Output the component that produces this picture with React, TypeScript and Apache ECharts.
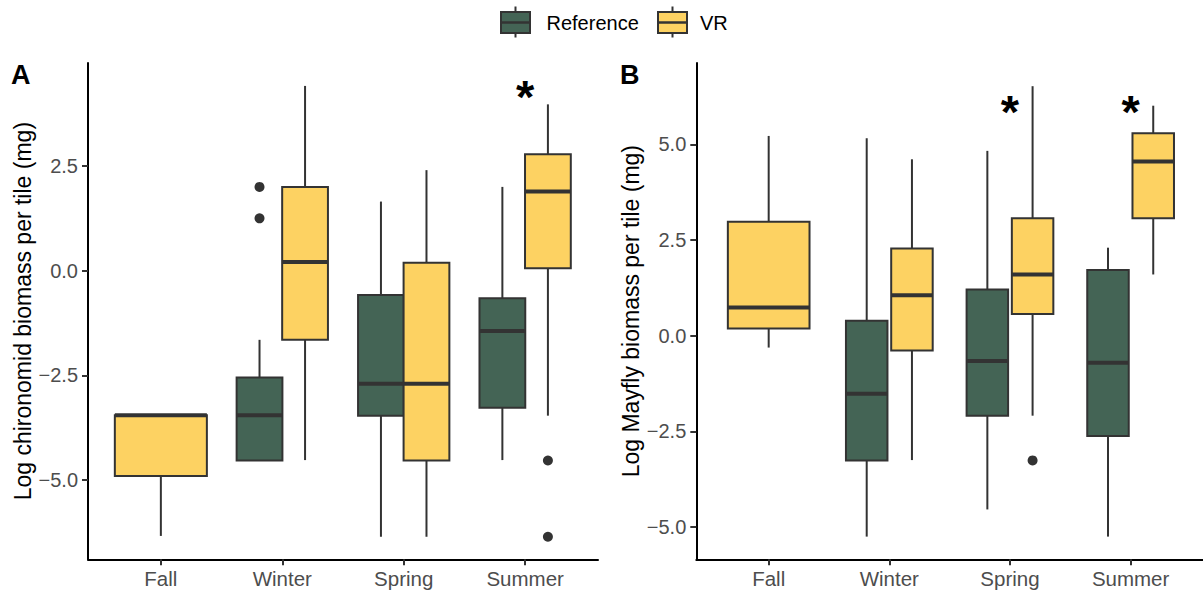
import React, { useEffect, useRef } from "react";
import * as echarts from "echarts";

const seasons = ["Fall", "Winter", "Spring", "Summer"];
// Box statistics per season: [lower whisker, Q1, median, Q3, upper whisker]; null = no box
const chironomidReference = [
  null,
  [-4.53, -4.53, -3.45, -2.55, -1.65],
  [-6.35, -3.46, -2.7, -0.58, 1.65],
  [-4.52, -3.27, -1.44, -0.66, 2.0],
];
const chironomidVR = [
  [-6.33, -4.9, -3.45, -3.45, -3.45],
  [-4.52, -1.65, 0.21, 2.0, 4.41],
  [-6.35, -4.53, -2.7, 0.19, 2.4],
  [-3.46, 0.06, 1.89, 2.78, 3.97],
];
const chironomidRefOutliers = [["Winter", 2.0], ["Winter", 1.25]];
const chironomidVROutliers = [["Summer", -4.53], ["Summer", -6.35]];
const chironomidSignif = [["Summer", 4.15]];

const mayflyReference = [
  null,
  [-5.25, -3.26, -1.52, 0.39, 5.16],
  [-4.54, -2.09, -0.66, 1.21, 4.83],
  [-5.25, -2.62, -0.71, 1.72, 2.3],
];
const mayflyVR = [
  [-0.31, 0.19, 0.74, 2.98, 5.22],
  [-3.25, -0.39, 1.06, 2.28, 4.61],
  [-2.09, 0.57, 1.6, 3.07, 6.52],
  [1.6, 3.07, 4.55, 5.29, 6.01],
];
const mayflyRefOutliers: [string, number][] = [];
const mayflyVROutliers = [["Spring", -3.26]];
const mayflySignif = [["Spring", 5.85], ["Summer", 5.85]];

const yTicksA = [-5, -2.5, 0, 2.5];
const yTicksB = [-5, -2.5, 0, 2.5, 5];
const xTicks = [1, 2, 3, 4];

const REF_COLOR = "#446455";
const VR_COLOR = "#FDD262";
const LINE = "#333333";
const FONT = "'Liberation Sans', Arial, Helvetica, sans-serif";
const DODGE = 0.1875;

function fmtY(v: number) {
  const s = Math.abs(v).toFixed(1);
  return v < 0 ? "\u2212" + s : s;
}

function boxSeries(
  name: string,
  stats: (number[] | null)[],
  other: (number[] | null)[],
  axis: number,
  color: string,
  side: number,
  pairW: number,
  singleW: number
) {
  const data = stats
    .map((s, i) => (s ? [i + 1, ...s, other[i] ? 1 : 0] : null))
    .filter((d) => d !== null);
  return {
    type: "custom",
    name,
    xAxisIndex: axis,
    yAxisIndex: axis,
    clip: false,
    encode: { x: 0, y: [1, 2, 3, 4, 5] },
    data,
    renderItem: (params: any, api: any) => {
      const both = api.value(6) === 1;
      const cx = both ? api.value(0) + side * DODGE : api.value(0);
      const w = both ? pairW : singleW;
      const lo = api.coord([cx, api.value(1)]);
      const q1 = api.coord([cx - w / 2, api.value(2)]);
      const med = api.coord([cx - w / 2, api.value(3)]);
      const q3 = api.coord([cx + w / 2, api.value(4)]);
      const hi = api.coord([cx, api.value(5)]);
      const left = q1[0];
      const right = q3[0];
      const children: any[] = [];
      if (hi[1] < q3[1] - 0.5)
        children.push({
          type: "line",
          shape: { x1: hi[0], y1: hi[1], x2: hi[0], y2: q3[1] },
          style: { stroke: LINE, lineWidth: 2 },
        });
      if (lo[1] > q1[1] + 0.5)
        children.push({
          type: "line",
          shape: { x1: lo[0], y1: q1[1], x2: lo[0], y2: lo[1] },
          style: { stroke: LINE, lineWidth: 2 },
        });
      children.push({
        type: "rect",
        shape: { x: left, y: q3[1], width: right - left, height: q1[1] - q3[1] },
        style: { fill: color, stroke: LINE, lineWidth: 2 },
      });
      children.push({
        type: "line",
        shape: { x1: left, y1: med[1], x2: right, y2: med[1] },
        style: { stroke: LINE, lineWidth: 4 },
      });
      return { type: "group", children };
    },
  };
}

function outlierSeries(points: any[], axis: number, side: number) {
  return {
    type: "scatter",
    xAxisIndex: axis,
    yAxisIndex: axis,
    symbol: "circle",
    symbolSize: 10,
    itemStyle: { color: LINE, opacity: 1 },
    data: points.map((p) => [seasons.indexOf(p[0]) + 1 + side * DODGE, p[1]]),
  };
}

function signifSeries(points: any[], axis: number) {
  return {
    type: "custom",
    xAxisIndex: axis,
    yAxisIndex: axis,
    clip: false,
    data: points.map((p) => [seasons.indexOf(p[0]) + 1, p[1]]),
    renderItem: (params: any, api: any) => {
      const c = api.coord([api.value(0), api.value(1)]);
      return {
        type: "text",
        x: c[0],
        y: c[1],
        style: {
          text: "*",
          fill: "#000000",
          fontSize: 47,
          fontWeight: "bold",
          fontFamily: FONT,
          align: "center",
          verticalAlign: "middle",
        },
      };
    },
  };
}

function xAxisCfg(grid: number) {
  return {
    type: "value",
    gridIndex: grid,
    min: 0.4,
    max: 4.6,
    splitLine: { show: false },
    axisLine: { show: true, onZero: false, lineStyle: { color: "#000000", width: 2 } },
    axisTick: {
      show: true,
      customValues: xTicks,
      length: 6,
      lineStyle: { color: LINE, width: 2 },
    },
    axisLabel: {
      show: true,
      customValues: xTicks,
      margin: 9,
      color: "#4D4D4D",
      fontSize: 20.5,
      fontFamily: FONT,
      formatter: (v: number) => seasons[Math.round(v) - 1] || "",
    },
  };
}

function yAxisCfg(grid: number, min: number, max: number, ticks: number[], name: string, gap: number) {
  return {
    type: "value",
    gridIndex: grid,
    min,
    max,
    name,
    nameLocation: "middle",
    nameRotate: 90,
    nameGap: gap,
    nameTextStyle: { color: "#000000", fontSize: 23, fontFamily: FONT },
    splitLine: { show: false },
    axisLine: { show: true, onZero: false, lineStyle: { color: "#000000", width: 2 } },
    axisTick: {
      show: true,
      customValues: ticks,
      length: 6,
      lineStyle: { color: LINE, width: 2 },
    },
    axisLabel: {
      show: true,
      customValues: ticks,
      margin: 10,
      color: "#4D4D4D",
      fontSize: 20,
      fontFamily: FONT,
      formatter: (v: number) => fmtY(v),
    },
  };
}

function legendKey(x: number, color: string) {
  const w = 29;
  const cx = x + w / 2;
  return [
    { type: "line", shape: { x1: cx, y1: 6.5, x2: cx, y2: 12 }, style: { stroke: LINE, lineWidth: 2 } },
    { type: "line", shape: { x1: cx, y1: 33, x2: cx, y2: 37.5 }, style: { stroke: LINE, lineWidth: 2 } },
    { type: "rect", shape: { x, y: 12, width: w, height: 21 }, style: { fill: color, stroke: LINE, lineWidth: 2 } },
    { type: "line", shape: { x1: x, y1: 22.5, x2: x + w, y2: 22.5 }, style: { stroke: LINE, lineWidth: 2.5 } },
  ];
}

export default function App() {
  const ref = useRef<HTMLDivElement>(null);
  useEffect(() => {
    if (!ref.current) return;
    const chart = echarts.init(ref.current, undefined, { renderer: "svg" });
    const option: any = {
      animation: false,
      backgroundColor: "#FFFFFF",
      textStyle: { fontFamily: FONT },
      grid: [
        { left: 88, top: 63, width: 510, height: 496.3, containLabel: false },
        { left: 696.3, top: 63, width: 509, height: 496.3, containLabel: false },
      ],
      xAxis: [xAxisCfg(0), xAxisCfg(1)],
      yAxis: [
        yAxisCfg(0, -6.888, 4.957, yTicksA, "Log chironomid biomass per tile (mg)", 53),
        yAxisCfg(1, -5.843, 7.126, yTicksB, "Log Mayfly biomass per tile (mg)", 45),
      ],
      graphic: [
        {
          type: "group",
          children: [
            ...legendKey(501, REF_COLOR),
            {
              type: "text",
              x: 546.5,
              y: 22.5,
              style: { text: "Reference", fill: "#000000", fontSize: 20, fontFamily: FONT, verticalAlign: "middle" },
            },
            ...legendKey(658, VR_COLOR),
            {
              type: "text",
              x: 700,
              y: 22.5,
              style: { text: "VR", fill: "#000000", fontSize: 20, fontFamily: FONT, verticalAlign: "middle" },
            },
            {
              type: "text",
              x: 11,
              y: 74.5,
              style: { text: "A", fill: "#000000", fontSize: 27, fontWeight: "bold", fontFamily: FONT, verticalAlign: "middle" },
            },
            {
              type: "text",
              x: 620,
              y: 74.5,
              style: { text: "B", fill: "#000000", fontSize: 27, fontWeight: "bold", fontFamily: FONT, verticalAlign: "middle" },
            },
          ],
        },
      ],
      series: [
        boxSeries("Reference", chironomidReference, chironomidVR, 0, REF_COLOR, -1, 0.377, 0.758),
        boxSeries("VR", chironomidVR, chironomidReference, 0, VR_COLOR, 1, 0.377, 0.758),
        outlierSeries(chironomidRefOutliers, 0, -1),
        outlierSeries(chironomidVROutliers, 0, 1),
        signifSeries(chironomidSignif, 0),
        boxSeries("Reference", mayflyReference, mayflyVR, 1, REF_COLOR, -1, 0.344, 0.677),
        boxSeries("VR", mayflyVR, mayflyReference, 1, VR_COLOR, 1, 0.344, 0.677),
        outlierSeries(mayflyRefOutliers, 1, -1),
        outlierSeries(mayflyVROutliers, 1, 1),
        signifSeries(mayflySignif, 1),
      ],
    };
    chart.setOption(option);
    return () => chart.dispose();
  }, []);
  return (
    <div
      ref={ref}
      style={{ position: "fixed", left: 0, top: 0, width: 1203, height: 591, background: "#fff" }}
    />
  );
}
